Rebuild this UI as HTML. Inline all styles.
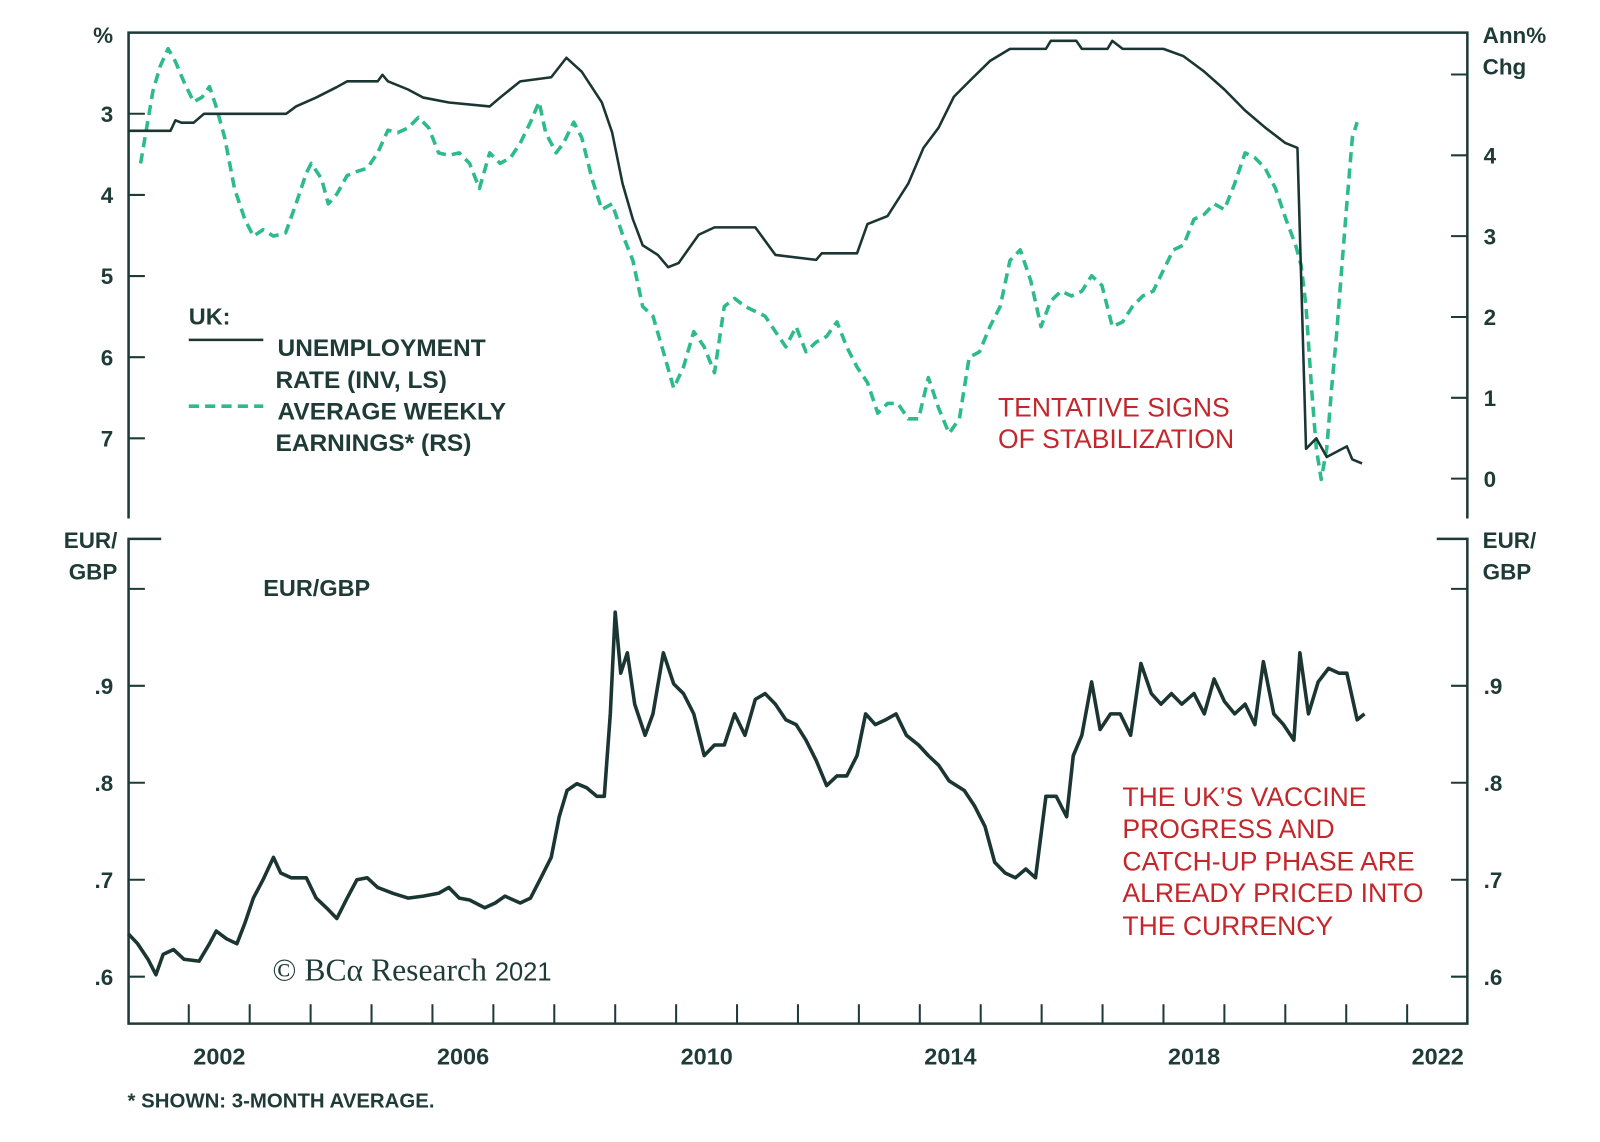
<!DOCTYPE html>
<html><head><meta charset="utf-8">
<style>
html,body{margin:0;padding:0;background:#fff;}
svg{display:block;}
text{font-family:"Liberation Sans",sans-serif;font-weight:bold;fill:#1f3b38;}
.red{fill:#c3272b;font-weight:normal;}
</style></head>
<body>
<svg id="chart" width="1600" height="1142" viewBox="0 0 1568 1119" preserveAspectRatio="none" xmlns="http://www.w3.org/2000/svg">
<g id="frame" stroke="#1f3b38" stroke-width="2.5" fill="none">
  <path d="M126 508 V32 H1438 V508"/>
  <path d="M158 528 H126 V1003 H1438 V528 H1408"/>
</g>
<g id="ticks" stroke="#1f3b38" stroke-width="2"></g>
<g id="labels"></g>
<g id="series" fill="none"></g>

<text x="101" y="42" font-size="22" text-anchor="middle">%</text>
<text x="1453" y="42" font-size="22">Ann%</text>
<text x="1453" y="73" font-size="22">Chg</text>
<text x="115" y="537" font-size="22" text-anchor="end">EUR/</text>
<text x="115" y="568" font-size="22" text-anchor="end">GBP</text>
<text x="1453" y="537" font-size="22">EUR/</text>
<text x="1453" y="568" font-size="22">GBP</text>

<g>
<text x="185" y="318" font-size="23">UK:</text>
<line x1="185" y1="333" x2="258" y2="333" stroke="#1a3532" stroke-width="2.5"/>
<text x="272" y="349" font-size="24">UNEMPLOYMENT</text>
<text x="270" y="380" font-size="24">RATE (INV, LS)</text>
<line x1="185" y1="398" x2="258" y2="398" stroke="#2dbb8a" stroke-width="3.5" stroke-dasharray="10 6"/>
<text x="272" y="411" font-size="24">AVERAGE WEEKLY</text>
<text x="270" y="442" font-size="24">EARNINGS* (RS)</text>
</g>
<text class="red" x="978" y="408" font-size="26">TENTATIVE SIGNS</text>
<text class="red" x="978" y="439" font-size="26">OF STABILIZATION</text>
<text x="258" y="584" font-size="23">EUR/GBP</text>
<g>
<text class="red" x="1100" y="790" font-size="26">THE UK’S VACCINE</text>
<text class="red" x="1100" y="821" font-size="26">PROGRESS AND</text>
<text class="red" x="1100" y="853" font-size="26">CATCH-UP PHASE ARE</text>
<text class="red" x="1100" y="884" font-size="26">ALREADY PRICED INTO</text>
<text class="red" x="1100" y="916" font-size="26">THE CURRENCY</text>
</g>
<text x="267" y="961" font-size="31" style="font-family:'Liberation Serif',serif;font-weight:normal">© BCα Research <tspan font-family="Liberation Sans" font-size="25">2021</tspan></text>
<text x="125" y="1085" font-size="20">* SHOWN: 3-MONTH AVERAGE.</text>
</svg>
<script>
const yearTicks=[2002,2003,2004,2005,2006,2007,2008,2009,2010,2011,2012,2013,2014,2015,2016,2017,2018,2019,2020,2021,2022];
const yearLabels=[2002,2006,2010,2014,2018,2022];
const unempTicks=[3,4,5,6,7];
const earnTicks=[0,1,2,3,4,5];
const fxTicks=[0.6,0.7,0.8,0.9,1.0];
const fxTickLabels=[".6",".7",".8",".9",""];

const unempDates=[2001.0,2001.7,2001.78,2001.88,2002.08,2002.25,2003.6,2003.76,2004.09,2004.43,2004.6,2005.1,2005.18,2005.27,2005.6,2005.85,2006.27,2006.94,2007.11,2007.44,2007.95,2008.2,2008.45,2008.78,2008.95,2009.12,2009.29,2009.45,2009.7,2009.87,2010.04,2010.37,2010.63,2011.3,2011.63,2012.3,2012.39,2012.97,2013.14,2013.47,2013.81,2014.06,2014.31,2014.56,2014.81,2015.15,2015.48,2016.07,2016.15,2016.57,2016.66,2017.08,2017.16,2017.33,2018.0,2018.33,2018.67,2019.0,2019.34,2019.67,2020.0,2020.2,2020.34,2020.51,2020.68,2021.01,2021.1,2021.26];
const unempValues=[3.21,3.21,3.08,3.11,3.11,3.0,3.0,2.91,2.8,2.67,2.6,2.6,2.52,2.6,2.7,2.8,2.86,2.91,2.8,2.6,2.55,2.31,2.48,2.86,3.23,3.86,4.3,4.62,4.74,4.89,4.84,4.49,4.4,4.4,4.74,4.8,4.72,4.72,4.36,4.26,3.86,3.42,3.17,2.79,2.6,2.35,2.2,2.2,2.1,2.1,2.2,2.2,2.1,2.2,2.2,2.29,2.48,2.7,2.96,3.17,3.36,3.42,7.13,7.0,7.23,7.1,7.26,7.31];

const earnDates=[2001.21,2001.41,2001.53,2001.66,2001.78,2001.92,2002.08,2002.22,2002.34,2002.45,2002.59,2002.75,2002.92,2003.06,2003.22,2003.39,2003.59,2003.76,2003.93,2004.01,2004.18,2004.29,2004.43,2004.6,2004.76,2004.93,2005.1,2005.27,2005.43,2005.6,2005.77,2005.94,2006.1,2006.27,2006.44,2006.61,2006.77,2006.94,2007.11,2007.28,2007.44,2007.61,2007.75,2007.86,2008.03,2008.15,2008.32,2008.45,2008.62,2008.78,2008.95,2009.12,2009.29,2009.45,2009.62,2009.79,2009.96,2010.12,2010.29,2010.46,2010.63,2010.79,2010.96,2011.13,2011.3,2011.46,2011.63,2011.8,2011.97,2012.13,2012.3,2012.47,2012.64,2012.8,2012.97,2013.14,2013.31,2013.47,2013.64,2013.81,2013.98,2014.14,2014.31,2014.48,2014.65,2014.81,2014.98,2015.15,2015.32,2015.48,2015.65,2015.82,2015.99,2016.15,2016.32,2016.49,2016.66,2016.82,2016.99,2017.16,2017.33,2017.49,2017.66,2017.83,2018.0,2018.16,2018.33,2018.5,2018.67,2018.83,2019.0,2019.17,2019.34,2019.5,2019.67,2019.84,2020.01,2020.17,2020.26,2020.34,2020.43,2020.51,2020.59,2020.68,2020.76,2020.84,2020.93,2021.01,2021.1,2021.18];
const earnValues=[3.9,4.79,5.1,5.32,5.16,4.91,4.66,4.72,4.85,4.6,4.22,3.59,3.21,3.0,3.08,3.0,3.04,3.4,3.78,3.9,3.71,3.4,3.52,3.75,3.8,3.84,4.03,4.31,4.28,4.34,4.47,4.34,4.03,4.0,4.03,3.9,3.59,4.03,3.9,3.97,4.15,4.41,4.66,4.28,4.03,4.15,4.41,4.22,3.71,3.33,3.4,3.02,2.7,2.13,2.01,1.57,1.12,1.38,1.82,1.63,1.31,2.13,2.23,2.13,2.07,2.01,1.82,1.63,1.88,1.57,1.69,1.76,1.94,1.63,1.38,1.19,0.81,0.93,0.93,0.74,0.74,1.25,0.87,0.56,0.74,1.5,1.57,1.88,2.13,2.7,2.83,2.45,1.88,2.2,2.32,2.26,2.32,2.51,2.39,1.88,1.94,2.13,2.26,2.32,2.58,2.83,2.89,3.21,3.27,3.4,3.33,3.65,4.03,3.97,3.84,3.59,3.21,2.89,2.64,2.13,1.12,0.37,-0.01,0.37,1.12,1.76,2.64,3.4,4.22,4.41];

const fxDates=[2001.01,2001.16,2001.33,2001.46,2001.58,2001.75,2001.92,2002.17,2002.34,2002.45,2002.62,2002.79,2002.92,2003.06,2003.22,2003.39,2003.51,2003.68,2003.93,2004.09,2004.26,2004.43,2004.6,2004.76,2004.93,2005.1,2005.35,2005.6,2005.85,2006.1,2006.27,2006.44,2006.61,2006.86,2007.03,2007.19,2007.44,2007.61,2007.78,2007.95,2008.08,2008.21,2008.37,2008.53,2008.7,2008.82,2008.92,2009.0,2009.09,2009.2,2009.32,2009.49,2009.62,2009.79,2009.96,2010.12,2010.29,2010.46,2010.63,2010.79,2010.96,2011.13,2011.3,2011.46,2011.63,2011.8,2011.97,2012.13,2012.3,2012.47,2012.64,2012.8,2012.97,2013.11,2013.27,2013.44,2013.61,2013.78,2013.98,2014.14,2014.31,2014.48,2014.73,2014.9,2015.07,2015.23,2015.4,2015.57,2015.74,2015.9,2016.07,2016.24,2016.41,2016.52,2016.66,2016.82,2016.96,2017.13,2017.29,2017.46,2017.63,2017.8,2017.96,2018.13,2018.3,2018.5,2018.67,2018.83,2019.0,2019.17,2019.34,2019.5,2019.64,2019.81,2019.97,2020.14,2020.24,2020.38,2020.54,2020.71,2020.88,2021.01,2021.18,2021.3];
const fxValues=[0.644,0.634,0.618,0.602,0.623,0.628,0.618,0.616,0.634,0.647,0.639,0.634,0.655,0.681,0.7,0.723,0.707,0.702,0.702,0.681,0.671,0.66,0.681,0.7,0.702,0.692,0.686,0.681,0.683,0.686,0.692,0.681,0.679,0.671,0.676,0.683,0.676,0.681,0.702,0.723,0.765,0.792,0.799,0.795,0.786,0.786,0.871,0.976,0.913,0.934,0.881,0.849,0.871,0.934,0.902,0.892,0.871,0.828,0.839,0.839,0.871,0.849,0.886,0.892,0.881,0.865,0.86,0.844,0.823,0.797,0.807,0.807,0.828,0.871,0.86,0.865,0.871,0.849,0.839,0.828,0.818,0.802,0.792,0.776,0.755,0.718,0.707,0.702,0.711,0.702,0.786,0.786,0.765,0.828,0.849,0.904,0.855,0.871,0.871,0.849,0.923,0.892,0.881,0.892,0.881,0.892,0.871,0.907,0.884,0.871,0.881,0.86,0.925,0.871,0.86,0.844,0.934,0.871,0.904,0.918,0.913,0.913,0.865,0.871];

const NS="http://www.w3.org/2000/svg";
const X0=185, PX=59.7;
function xS(t){return X0+(t-2002)*PX;}
function yU(v){return 32+(v-2)*79.5;}
function yE(v){return 469-v*79.2;}
function yF(v){return 957-(v-0.6)*950;}
function mk(tag,attrs,parent){const e=document.createElementNS(NS,tag);for(const k in attrs)e.setAttribute(k,attrs[k]);parent.appendChild(e);return e;}
const tg=document.getElementById('ticks'), lg=document.getElementById('labels'), sg=document.getElementById('series');

yearTicks.forEach(y=>{const t=mk('line',{x1:xS(y),x2:xS(y),y1:1003,y2:984},tg);

});
yearLabels.forEach(y=>{const t=mk('text',{x:xS(y)+30,y:1043,'font-size':23,'text-anchor':'middle'},lg);t.textContent=y;

});
unempTicks.forEach(v=>{const l=mk('line',{x1:126,x2:142,y1:yU(v),y2:yU(v)},tg);


const t=mk('text',{x:111,y:yU(v)+8,'font-size':22,'text-anchor':'end'},lg);t.textContent=v;

});
earnTicks.forEach(v=>{const l=mk('line',{x1:1422,x2:1438,y1:yE(v),y2:yE(v)},tg);


if(v<5){const t=mk('text',{x:1454,y:yE(v)+8,'font-size':22},lg);t.textContent=v;

}});
fxTicks.forEach((v,i)=>{const l=mk('line',{x1:126,x2:142,y1:yF(v),y2:yF(v)},tg);


const r=mk('line',{x1:1422,x2:1438,y1:yF(v),y2:yF(v)},tg);


if(fxTickLabels[i]){const t=mk('text',{x:111,y:yF(v)+8,'font-size':22,'text-anchor':'end'},lg);t.textContent=fxTickLabels[i];


const t2=mk('text',{x:1454,y:yF(v)+8,'font-size':22},lg);t2.textContent=fxTickLabels[i];

}});

function pathOf(ds,vs,yf){return ds.map((d,i)=>(i?'L':'M')+xS(d).toFixed(1)+' '+yf(vs[i]).toFixed(1)).join(' ');}
const pe=mk('path',{d:pathOf(earnDates,earnValues,yE),stroke:'#2dbb8a','stroke-width':3.5,'stroke-dasharray':'10 6','stroke-linejoin':'round'},sg);


const pu=mk('path',{d:pathOf(unempDates,unempValues,yU),stroke:'#1a3532','stroke-width':2.5,'stroke-linejoin':'round'},sg);


const pf=mk('path',{d:pathOf(fxDates,fxValues,yF),stroke:'#1a3532','stroke-width':3.5,'stroke-linejoin':'round'},sg);


</script>
</body></html>
